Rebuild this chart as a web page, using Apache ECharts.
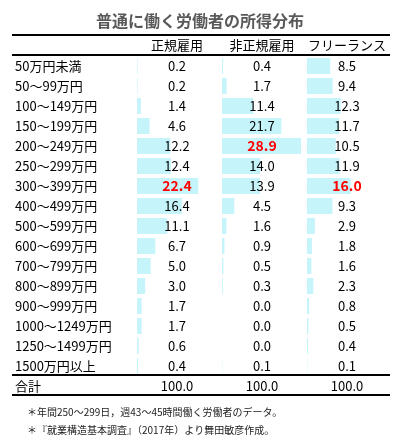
<!DOCTYPE html>
<html>
<head>
<meta charset="utf-8">
<script src="https://cdn.jsdelivr.net/npm/echarts@6/dist/echarts.min.js"></script>
<style>
html,body{margin:0;padding:0;background:#fff;}
#main{width:400px;height:444px;}
</style>
</head>
<body>
<div id="main"></div>
<script>
const titleText = '普通に働く労働者の所得分布';
const columns = ['正規雇用', '非正規雇用', 'フリーランス'];
const categories = ['50万円未満', '50〜99万円', '100〜149万円', '150〜199万円', '200〜249万円', '250〜299万円', '300〜399万円', '400〜499万円', '500〜599万円', '600〜699万円', '700〜799万円', '800〜899万円', '900〜999万円', '1000〜1249万円', '1250〜1499万円', '1500万円以上'];
const regular = [0.2, 0.2, 1.4, 4.6, 12.2, 12.4, 22.4, 16.4, 11.1, 6.7, 5.0, 3.0, 1.7, 1.7, 0.6, 0.4];
const nonRegular = [0.4, 1.7, 11.4, 21.7, 28.9, 14.0, 13.9, 4.5, 1.6, 0.9, 0.5, 0.3, 0.0, 0.0, 0.0, 0.1];
const freelance = [8.5, 9.4, 12.3, 11.7, 10.5, 11.9, 16.0, 9.3, 2.9, 1.8, 1.6, 2.3, 0.8, 0.5, 0.4, 0.1];
const totalLabel = '合計';
const totals = [100.0, 100.0, 100.0];
const notes = ['＊年間250〜299日，週43〜45時間働く労働者のデータ。', '＊『就業構造基本調査』（2017年）より舞田敏彦作成。'];

const FONT = '"Noto Sans CJK JP", "Noto Sans", sans-serif';
const BAR = '#c5f4fb';
const seriesValues = [regular, nonRegular, freelance];
const allCats = categories.concat([totalLabel]);

const chart = echarts.init(document.getElementById('main'), null, {renderer: 'canvas'});

const grids = [], xAxes = [], yAxes = [], series = [];
const colLeft = 137, colStep = 85, gridTop = 56, rowH = 20;
seriesValues.forEach((vals, i) => {
  grids.push({left: colLeft + colStep * i, top: gridTop, width: 82, height: rowH * allCats.length});
  xAxes.push({type: 'value', gridIndex: i, min: 0, max: 30, show: false});
  yAxes.push({
    type: 'category', gridIndex: i, data: allCats, inverse: true,
    axisLine: {show: false}, axisTick: {show: false}, splitLine: {show: false},
    axisLabel: i === 0 ? {show: true, align: 'left', margin: colLeft - 15, fontFamily: FONT, fontSize: 13, color: '#000'} : {show: false}
  });
  const mx = Math.max.apply(null, vals);
  const data = vals.map(v => {
    const item = {value: v};
    if (v === mx) item.label = {color: '#ff0000', fontWeight: 'bold', fontSize: 14};
    return item;
  });
  data.push({value: totals[i], itemStyle: {color: 'rgba(0,0,0,0)'}});
  series.push({
    type: 'bar', xAxisIndex: i, yAxisIndex: i, data: data, barWidth: 16,
    itemStyle: {color: BAR}, silent: true, animation: false,
    label: {
      show: true, position: [40, '50%'], align: 'center', verticalAlign: 'middle',
      fontFamily: FONT, fontSize: 13, color: '#000',
      formatter: p => Number(p.value).toFixed(1)
    }
  });
});

const lineStyle = {stroke: '#000', lineWidth: 2};
const graphic = [
  {type: 'line', shape: {x1: 12, y1: 35, x2: 390, y2: 35}, style: lineStyle},
  {type: 'line', shape: {x1: 12, y1: 55, x2: 390, y2: 55}, style: lineStyle},
  {type: 'line', shape: {x1: 12, y1: 375, x2: 390, y2: 375}, style: lineStyle},
  {type: 'line', shape: {x1: 12, y1: 395, x2: 390, y2: 395}, style: lineStyle}
];
columns.forEach((c, i) => {
  graphic.push({type: 'text', x: colLeft + colStep * i + 40, y: 45,
    style: {text: c, font: '13px ' + FONT, fill: '#000', textAlign: 'center', textVerticalAlign: 'middle'}});
});
notes.forEach((n, i) => {
  graphic.push({type: 'text', x: 27, y: 412 + 18 * i,
    style: {text: n, font: '10px ' + FONT, fill: '#222', textAlign: 'left', textVerticalAlign: 'middle'}});
});

chart.setOption({
  animation: false,
  title: {text: titleText, left: 'center', top: 8, textStyle: {fontFamily: FONT, fontSize: 16, fontWeight: 'bold', color: '#595959'}},
  grid: grids, xAxis: xAxes, yAxis: yAxes, series: series, graphic: graphic
});
</script>
</body>
</html>
